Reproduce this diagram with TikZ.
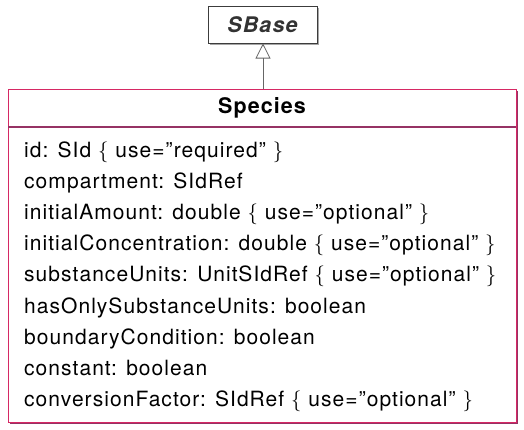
\documentclass[tikz,border=0pt]{standalone}
\usepackage{fontspec}
\setmainfont[LetterSpace=5]{TeX Gyre Heros}
\usetikzlibrary{arrows.meta}
\definecolor{boxred}{RGB}{214,40,100}
\definecolor{boxdark}{RGB}{150,50,100}
\definecolor{sbgray}{RGB}{60,60,60}
\newcommand{\lb}{$\big\{$}
\newcommand{\rb}{$\big\}$}
\begin{document}
\begin{tikzpicture}[x=1pt,y=-1pt,
  attr/.style={anchor=base west,inner sep=0pt,font=\fontsize{21}{24}\selectfont},
  title/.style={inner sep=0pt,font=\fontsize{21.5}{24}\selectfont\bfseries}]
\useasboundingbox (0,0) rectangle (524,429);
% SBase
\fill[gray!70] (210,8) rectangle (319,45);
\draw[sbgray,fill=white,line width=1pt] (208,6) rectangle (317,43);
\node[title,text=black!80] (sbase) at (262.5,25) {\itshape SBase};
\coordinate (sbbot) at (263,43.5);
% Species
\fill[boxdark] (10,91) rectangle (518,424);
\draw[boxred,fill=white,line width=1pt] (8,89) rectangle (516,422);
\draw[boxdark,line width=1.2pt] (8,127) -- (516,127);
\coordinate (sptop) at (263,89);
\node[title] (species) at (262,108) {Species};
\draw[gray!80!black,line width=0.8pt,-{Triangle[open,length=15pt,width=15pt]}] (sptop) -- (sbbot);
\node[attr] (a1) at (24,157) {id: SId \lb\ use=”required” \rb};
\node[attr] (a2) at (24,188.2) {compartment: SIdRef};
\node[attr] (a3) at (24,219.4) {initialAmount: double \lb\ use=”optional” \rb};
\node[attr] (a4) at (24,250.6) {initialConcentration: double \lb\ use=”optional” \rb};
\node[attr] (a5) at (24,281.8) {substanceUnits: UnitSIdRef \lb\ use=”optional” \rb};
\node[attr] (a6) at (24,313) {hasOnlySubstanceUnits: boolean};
\node[attr] (a7) at (24,344.2) {boundaryCondition: boolean};
\node[attr] (a8) at (24,375.4) {constant: boolean};
\node[attr] (a9) at (24,406.6) {conversionFactor: SIdRef \lb\ use=”optional” \rb};
\end{tikzpicture}
\end{document}
